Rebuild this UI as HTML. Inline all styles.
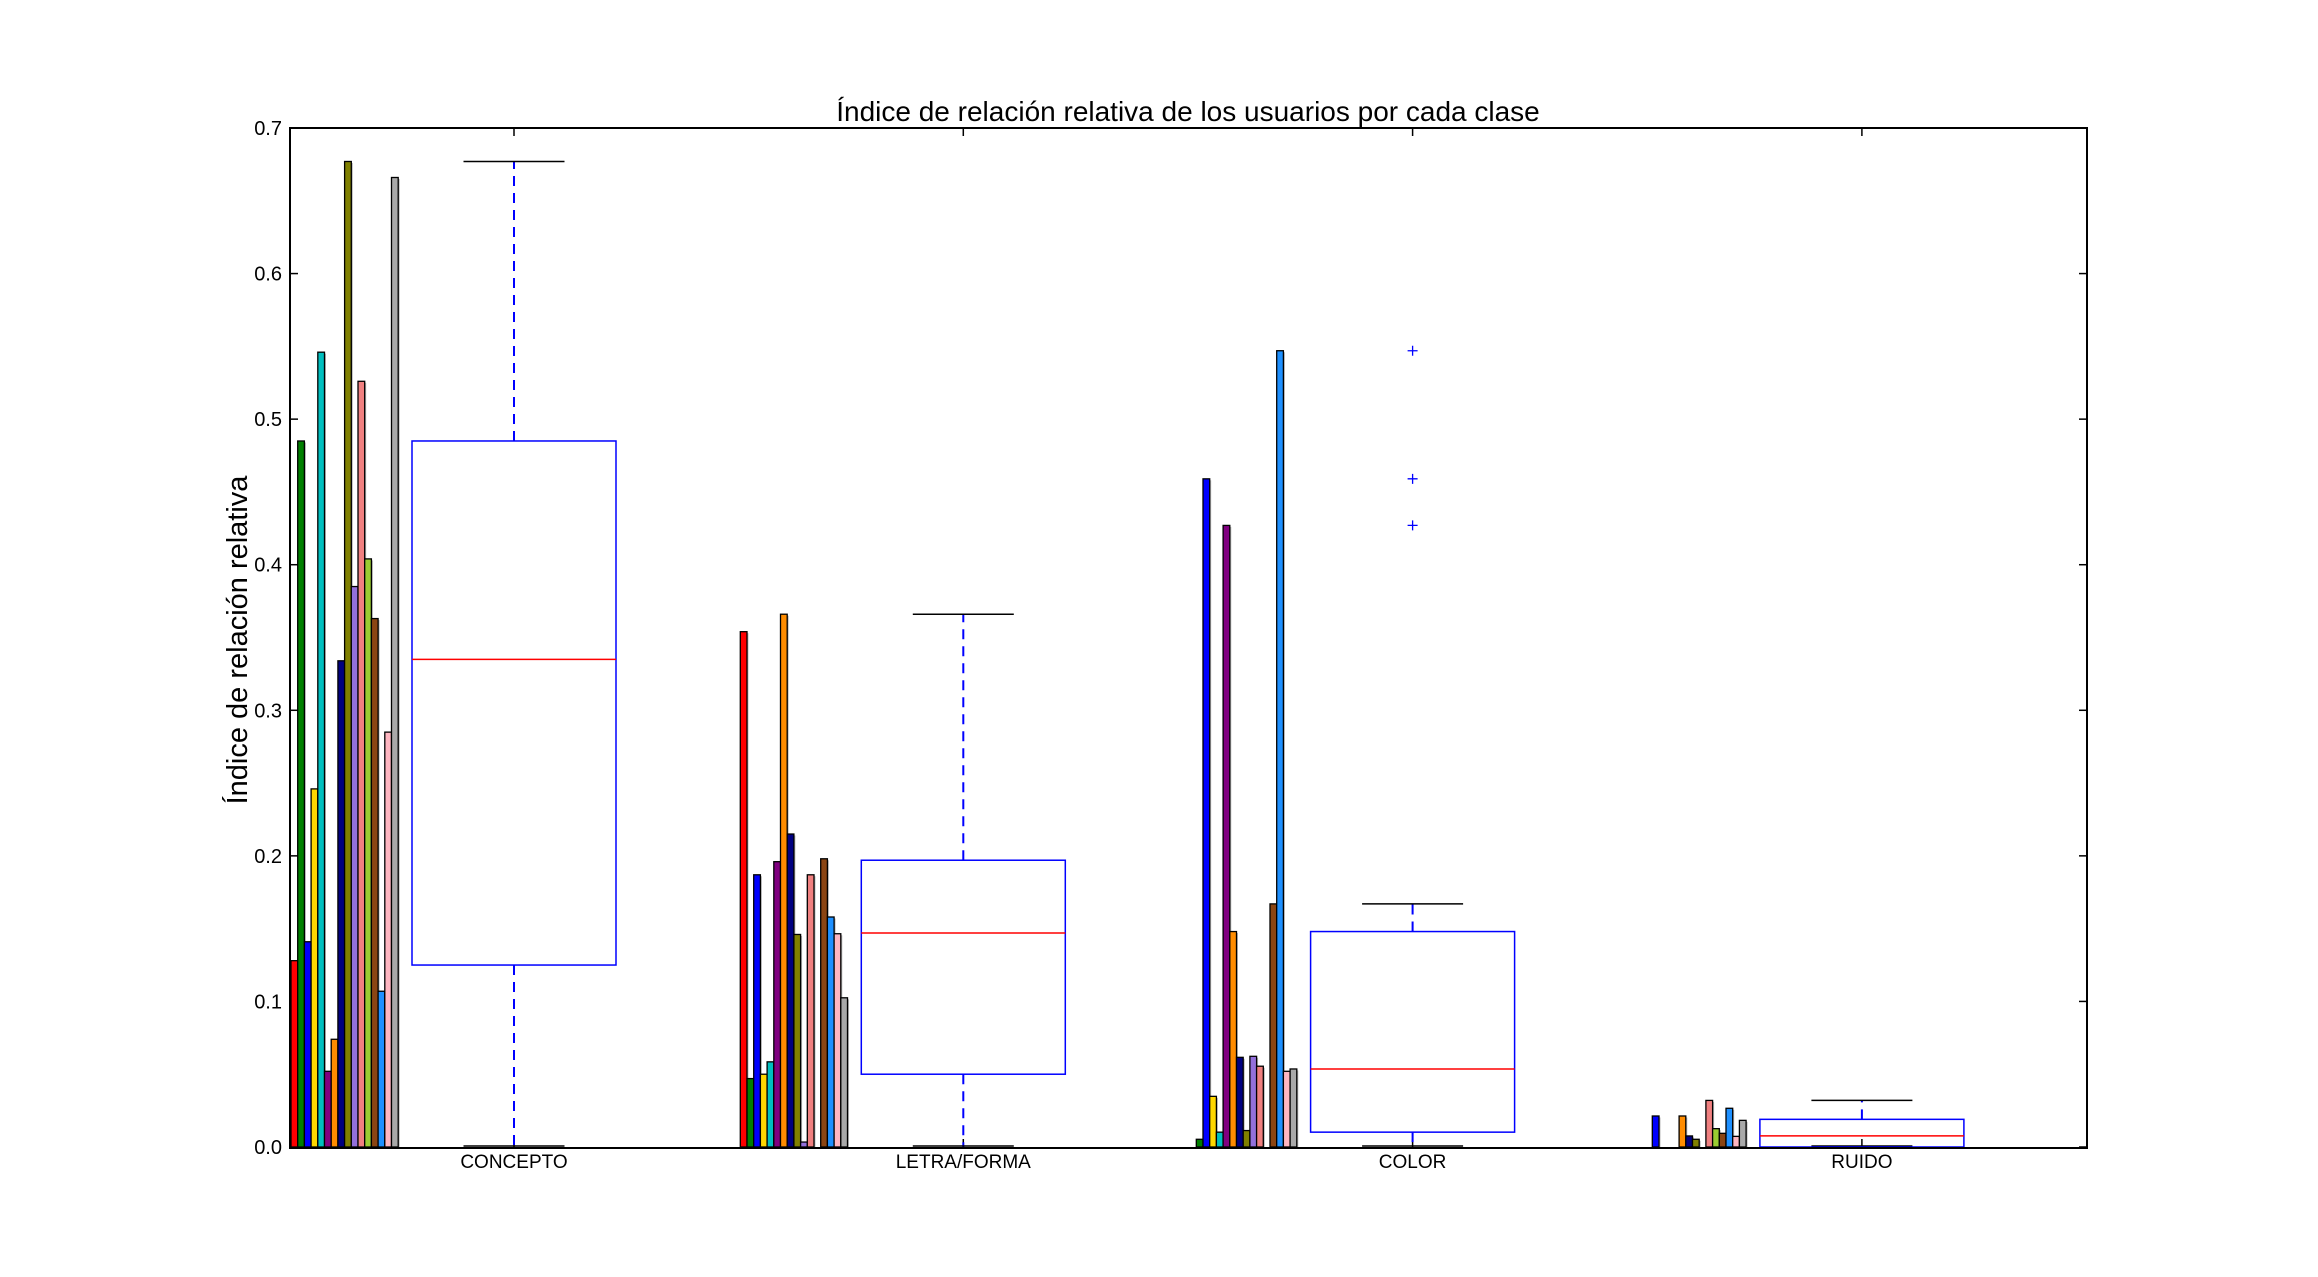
<!DOCTYPE html>
<html><head><meta charset="utf-8"><style>
html,body{margin:0;padding:0;background:#fff;}
svg{display:block;font-family:"Liberation Sans",sans-serif;}
</style></head><body>
<svg id="chart" width="2318" height="1277" viewBox="0 0 2318 1277" xmlns="http://www.w3.org/2000/svg">
<rect x="0" y="0" width="2318" height="1277" fill="#fff"/>
<text x="1188" y="121" font-size="28" text-anchor="middle">Índice de relación relativa de los usuarios por cada clase</text>
<text transform="translate(247,640) rotate(-90)" font-size="29" text-anchor="middle">Índice de relación relativa</text>
<g id="plot"></g>
<rect x="290" y="128" width="1797" height="1020" fill="none" stroke="#000" stroke-width="2"/>
</svg>
<script>
const categories = ["CONCEPTO","LETRA/FORMA","COLOR","RUIDO"];
const userColors = ["#ff0000","#008000","#0000ff","#ffd700","#00bfbf","#800080","#ff8c00","#000080","#808000","#9370db","#f08080","#9acd32","#8b4513","#1e90ff","#ffb6c1","#a9a9a9"];
const concepto = [0.128,0.485,0.141,0.246,0.546,0.052,0.074,0.334,0.677,0.385,0.526,0.404,0.363,0.107,0.285,0.666];
const letraForma = [0.354,0.047,0.187,0.050,0.0585,0.196,0.366,0.215,0.146,0.0034,0.187,0,0.198,0.158,0.1465,0.1025];
const color = [0,0.0053,0.459,0.0348,0.0102,0.427,0.148,0.0616,0.0113,0.0623,0.0555,0,0.167,0.547,0.052,0.0536];
const ruido = [0,0,0.0213,0,0,0,0.0213,0.0076,0.0053,0,0.032,0.0126,0.0094,0.0266,0.0073,0.0183];
const boxQ1 = [0.125,0.050,0.0102,0];
const boxMedian = [0.335,0.147,0.0536,0.0076];
const boxQ3 = [0.485,0.197,0.148,0.019];
const whiskerLow = [0,0,0,0];
const whiskerHigh = [0.677,0.366,0.167,0.032];
const fliers = [[],[],[0.547,0.459,0.427],[]];
const yTicks = [0.0,0.1,0.2,0.3,0.4,0.5,0.6,0.7];

const series=[concepto,letraForma,color,ruido];
const NS="http://www.w3.org/2000/svg";
const plot=document.getElementById('plot');
const X0=290,X1=2087,Y0=1147,YT=128;
const yScale=v=>Y0-(v/0.7)*(Y0-YT);
const xCenter=i=>514+i*449.3;
function mk(tag,attrs){const e=document.createElementNS(NS,tag);for(const k in attrs)e.setAttribute(k,attrs[k]);plot.appendChild(e);return e;}

yTicks.forEach((t,i)=>{
  const y=yScale(t);
  let l=mk('line',{x1:X0,x2:X0+8,y1:y,y2:y,stroke:'#000','stroke-width':1.5});
  
  
  let r=mk('line',{x1:X1-8,x2:X1,y1:y,y2:y,stroke:'#000','stroke-width':1.5});
  
  
  let tx=mk('text',{x:X0-8,y:y+7,'font-size':20,'text-anchor':'end'});
  tx.textContent=t.toFixed(1);
  
  
});

const slot=6.7;
categories.forEach((c,i)=>{
  const cx=xCenter(i);
  let tk=mk('line',{x1:cx,x2:cx,y1:Y0,y2:Y0-8,stroke:'#000','stroke-width':1.5});
  
  
  let tk2=mk('line',{x1:cx,x2:cx,y1:YT,y2:YT+8,stroke:'#000','stroke-width':1.5});
  
  
  let lb=mk('text',{x:cx,y:1168,'font-size':19,'text-anchor':'middle'});
  lb.textContent=c;
  
  
  const gx=cx-223;
  series[i].forEach((v,j)=>{
    if(v<=0)return;
    const x=gx+j*slot,y=yScale(v),h=Y0-y;
    let sh=mk('rect',{x:x+1.5,y:y+1.5,width:slot,height:Math.max(h-1.5,0),fill:'#bbb'});
    
    
    let b=mk('rect',{x:x,y:y,width:slot,height:h,fill:userColors[j],stroke:'#000','stroke-width':1.3});
    
    
  });
  const bw=204,cw=101;
  let wl=mk('line',{x1:cx,x2:cx,y1:yScale(boxQ1[i]),y2:yScale(whiskerLow[i]),stroke:'#0000ff','stroke-width':2,'stroke-dasharray':'10,7'});
  
  
  let wh=mk('line',{x1:cx,x2:cx,y1:yScale(boxQ3[i]),y2:yScale(whiskerHigh[i]),stroke:'#0000ff','stroke-width':2,'stroke-dasharray':'10,7'});
  
  
  let c1=mk('line',{x1:cx-cw/2,x2:cx+cw/2,y1:yScale(whiskerLow[i])-1,y2:yScale(whiskerLow[i])-1,stroke:'#000','stroke-width':1.5});
  
  
  let c2=mk('line',{x1:cx-cw/2,x2:cx+cw/2,y1:yScale(whiskerHigh[i]),y2:yScale(whiskerHigh[i]),stroke:'#000','stroke-width':1.5});
  
  
  let bx=mk('rect',{x:cx-bw/2,y:yScale(boxQ3[i]),width:bw,height:yScale(boxQ1[i])-yScale(boxQ3[i]),fill:'none',stroke:'#0000ff','stroke-width':1.5});
  
  
  let md=mk('line',{x1:cx-bw/2,x2:cx+bw/2,y1:yScale(boxMedian[i]),y2:yScale(boxMedian[i]),stroke:'#ff0000','stroke-width':1.5});
  
  
  fliers[i].forEach(f=>{
    const y=yScale(f);
    let p=mk('path',{d:`M${cx-5},${y}H${cx+5}M${cx},${y-5}V${y+5}`,stroke:'#0000ff','stroke-width':1.3,fill:'none'});
    
    
  });
});
</script>
</body></html>
